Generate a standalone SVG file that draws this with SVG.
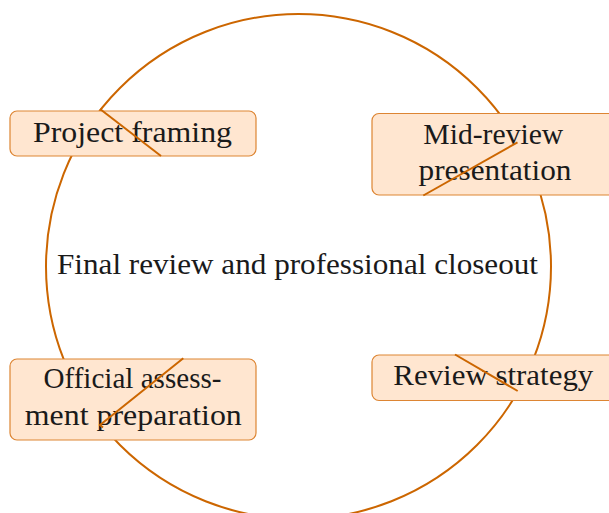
<svg xmlns="http://www.w3.org/2000/svg" width="609" height="513" viewBox="0 0 609 513">
  <style>
    .box { fill: #ffe6d0; stroke: #dd8533; stroke-width: 1.2; }
    .lbl { font-family: "Liberation Serif", "Times New Roman", serif; font-size: 29px; fill: #1a1a1a; text-anchor: middle; }
    .cyc { fill: none; stroke: #cc6600; stroke-width: 2; }
    .tip { fill: none; stroke: #cc6600; stroke-width: 2; stroke-linecap: butt; }
  </style>
  <rect width="609" height="513" fill="#ffffff"/>
  <g id="connectors">
    <circle class="cyc" cx="298.5" cy="266.5" r="252.5"/>
  </g>
  <g id="center">
    <text class="lbl" x="297.5" y="274" textLength="481" lengthAdjust="spacingAndGlyphs">Final review and professional closeout</text>
  </g>
  <g id="node-project-framing">
    <rect class="box" x="10" y="111" width="246" height="45" rx="7"/>
    <text class="lbl" x="132.5" y="141.5" textLength="199" lengthAdjust="spacingAndGlyphs">Project framing</text>
  </g>
  <g id="node-mid-review">
    <rect class="box" x="372" y="113.5" width="246" height="81.5" rx="7"/>
    <text class="lbl" x="493.3" y="144.3" textLength="140" lengthAdjust="spacingAndGlyphs">Mid-review</text>
    <text class="lbl" x="495" y="180" textLength="153" lengthAdjust="spacingAndGlyphs">presentation</text>
  </g>
  <g id="node-review-strategy">
    <rect class="box" x="372" y="355" width="246" height="45.5" rx="7"/>
    <text class="lbl" x="493.3" y="385" textLength="200" lengthAdjust="spacingAndGlyphs">Review strategy</text>
  </g>
  <g id="node-official-assessment">
    <rect class="box" x="10" y="359" width="246" height="81" rx="7"/>
    <text class="lbl" x="132.5" y="388.3" textLength="178" lengthAdjust="spacingAndGlyphs">Official assess-</text>
    <text class="lbl" x="133.3" y="425" textLength="217" lengthAdjust="spacingAndGlyphs">ment preparation</text>
  </g>
  <g id="arrow-tips">
    <line class="tip" x1="100" y1="109" x2="161" y2="156"/>
    <line class="tip" x1="423.3" y1="195.5" x2="517.5" y2="142.3"/>
    <line class="tip" x1="455" y1="354.5" x2="517.7" y2="391"/>
    <polyline class="tip" points="183.3,358.3 100,425 103,427.5"/>
  </g>
</svg>
